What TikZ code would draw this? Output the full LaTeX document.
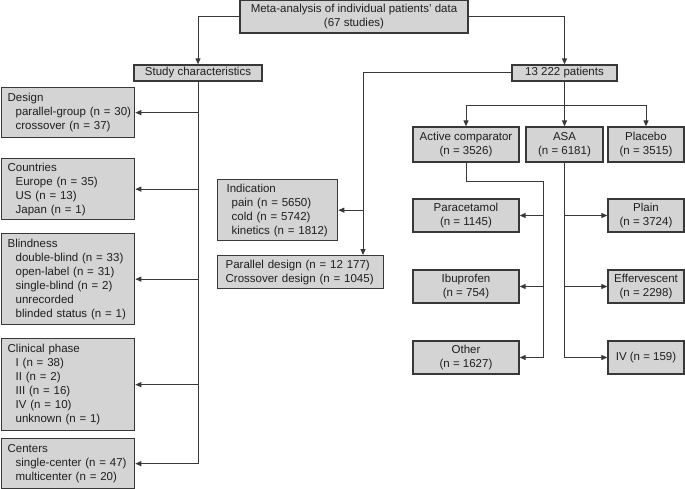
\documentclass[tikz,border=0pt]{standalone}
\usepackage{fontspec}
\setmainfont{Liberation Sans}
\usepackage{xcolor}
\usetikzlibrary{arrows.meta}

\definecolor{boxgray}{HTML}{D4D4D4}
\definecolor{edgegray}{HTML}{383838}
\newcommand{\itm}[1]{\hspace*{8pt}\mbox{#1}}

\begin{document}
\begin{tikzpicture}[x=1pt,y=-1pt,
  font=\fontsize{11.5}{14}\selectfont,
  box/.style={draw=edgegray, fill=boxgray, line width=1.3pt, inner sep=0pt, text=black!88},
  cbox/.style={box, align=center},
  lbox/.style={box, align=left, anchor=north west, inner xsep=6pt},
  link/.style={draw=edgegray, line width=1pt},
  arr/.style={link, -{Triangle[length=6pt,width=5pt]}}]
\useasboundingbox (0,0) rectangle (685,489);

\node[cbox, minimum width=228pt, minimum height=33pt] (meta) at (354,16.5) {Meta-analysis of individual patients' data\\(67 studies)};
\node[cbox, minimum width=128pt, minimum height=16pt] (study) at (198,73) {Study characteristics};
\node[cbox, minimum width=105pt, minimum height=16pt] (patients) at (564.5,73) {13 222 patients};

\node[lbox, text width=121pt, minimum height=50pt] (design) at (1,87) {Design\\\itm{parallel-group (n = 30)}\\\itm{crossover (n = 37)}};
\node[lbox, text width=121pt, minimum height=61pt] (countries) at (1,158) {Countries\\\itm{Europe (n = 35)}\\\itm{US (n = 13)}\\\itm{Japan (n = 1)}};
\node[lbox, text width=121pt, minimum height=91pt] (blindness) at (1,233) {Blindness\\\itm{double-blind (n = 33)}\\\itm{open-label (n = 31)}\\\itm{single-blind (n = 2)}\\\itm{unrecorded}\\\itm{blinded status (n = 1)}};
\node[lbox, text width=121pt, minimum height=92pt] (clinical) at (1,338) {Clinical phase\\\itm{I (n = 38)}\\\itm{II (n = 2)}\\\itm{III (n = 16)}\\\itm{IV (n = 10)}\\\itm{unknown (n = 1)}};
\node[lbox, text width=121pt, minimum height=50pt] (centers) at (1,438) {Centers\\\itm{single-center (n = 47)}\\\itm{multicenter (n = 20)}};

\node[lbox, inner xsep=9pt, text width=102pt, minimum height=61pt] (indication) at (217,179) {Indication\\\hspace*{5pt}pain (n = 5650)\\\hspace*{5pt}cold (n = 5742)\\\hspace*{5pt}kinetics (n = 1812)};
\node[lbox, inner xsep=8pt, text width=150pt, minimum height=33pt] (parallel) at (217,255) {Parallel design (n = 12 177)\\Crossover design (n = 1045)};

\node[cbox, minimum width=106pt, minimum height=35pt] (active) at (466,144.5) {Active comparator\\(n = 3526)};
\node[cbox, minimum width=77pt, minimum height=35pt] (asa) at (564.5,144.5) {ASA\\(n = 6181)};
\node[cbox, minimum width=76pt, minimum height=35pt] (placebo) at (646,144.5) {Placebo\\(n = 3515)};

\foreach \n/\x/\y/\w/\t in {paracetamol/466/215.5/106/{Paracetamol\\(n = 1145)},
    ibuprofen/466/286.5/106/{Ibuprofen\\(n = 754)},
    other/466/357.5/106/{Other\\(n = 1627)},
    plain/646/215.5/76/{Plain\\(n = 3724)},
    effervescent/646/286.5/76/{Effervescent\\(n = 2298)},
    iv/646/357.5/76/{IV (n = 159)}} {
  \node[cbox, minimum width=\w pt, minimum height=33pt] (\n) at (\x,\y) {\t};
}

\coordinate (split) at (363,0);
\coordinate (fork) at (564.5,106);
\coordinate (acbus) at (543,182);

\draw[arr] (meta.west) -| (study.north);
\draw[arr] (meta.east) -| (patients.north);

\draw[arr] (study.south) |- (centers.east);
\foreach \n in {design,countries,blindness,clinical} {
  \draw[arr] (study.south |- \n.east) -- (\n.east);
}

\draw[arr] (patients.west) -| (split |- parallel.north);
\draw[arr] (split |- indication.east) -- (indication.east);

\draw[arr] (patients.south) -- (asa.north);
\draw[arr] (fork) -| (active.north);
\draw[arr] (fork) -| (placebo.north);

\draw[arr] (active.south) |- (acbus) |- (other.east);
\foreach \n in {paracetamol,ibuprofen} {
  \draw[arr] (acbus |- \n.east) -- (\n.east);
}
\draw[arr] (asa.south) |- (iv.west);
\foreach \n in {plain,effervescent} {
  \draw[arr] (asa.south |- \n.west) -- (\n.west);
}
\end{tikzpicture}
\end{document}
